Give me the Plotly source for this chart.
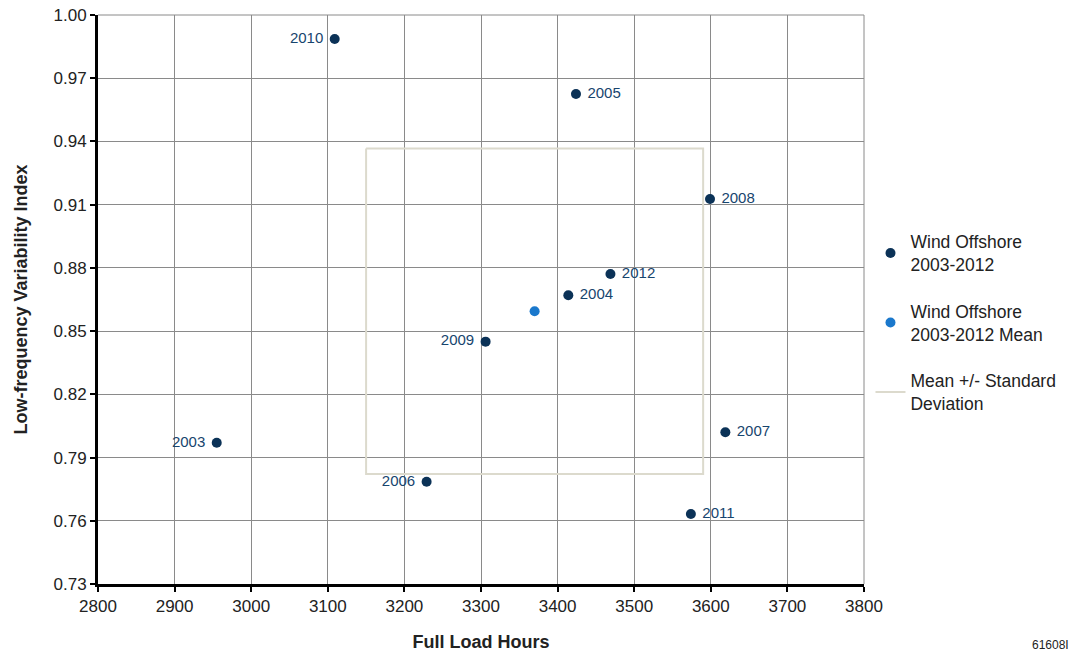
import plotly.graph_objects as go

years = ["2003", "2004", "2005", "2006", "2007", "2008", "2009", "2010", "2011", "2012"]
full_load_hours = [2955, 3414, 3424, 3229, 3619, 3599, 3306, 3109, 3574, 3469]
variability_index = [0.797, 0.867, 0.9625, 0.7785, 0.802, 0.9127, 0.845, 0.9886, 0.7632, 0.8771]
label_side = ["middle left", "middle right", "middle right", "middle left", "middle right",
              "middle right", "middle left", "middle left", "middle right", "middle right"]

mean_hours = [3370]
mean_index = [0.8594]
std_hours = [220]
std_index = [0.0772]

x_ticks = [2800, 2900, 3000, 3100, 3200, 3300, 3400, 3500, 3600, 3700, 3800]
y_ticks = [0.73, 0.76, 0.79, 0.82, 0.85, 0.88, 0.91, 0.94, 0.97, 1.00]

navy = "#0b3257"
label_color = "#17456e"
FONT = "Liberation Sans, Arial"

labels = [("\u00a0" + y) if side.endswith("right") else (y + "\u00a0")
          for y, side in zip(years, label_side)]

fig = go.Figure()

mx, my, sx, sy = mean_hours[0], mean_index[0], std_hours[0], std_index[0]
fig.add_trace(go.Scatter(
    x=[mx - sx, mx + sx, mx + sx, mx - sx, mx - sx],
    y=[my + sy, my + sy, my - sy, my - sy, my + sy],
    mode="lines", line=dict(color="#dcdacd", width=2),
    name="Mean +/- Standard<br>Deviation", legendrank=3, legendgroup="c",
))

fig.add_trace(go.Scatter(
    x=full_load_hours, y=variability_index, mode="markers+text",
    text=labels, textposition=label_side,
    textfont=dict(family=FONT, size=15, color=label_color),
    marker=dict(color=navy, size=10),
    name="Wind Offshore<br>2003-2012", legendrank=1, legendgroup="a",
))

fig.add_trace(go.Scatter(
    x=mean_hours, y=mean_index, mode="markers",
    marker=dict(color="#1a78cc", size=10),
    name="Wind Offshore<br>2003-2012 Mean", legendrank=2, legendgroup="b",
))

axis_common = dict(
    showgrid=True, gridcolor="#8a8a8a", gridwidth=1,
    showline=True, linecolor="black", linewidth=3,
    ticks="outside", ticklen=5, tickwidth=2, tickcolor="black",
    tickfont=dict(family=FONT, size=17, color="#222"),
    zeroline=False, mirror=False, automargin=False,
)

fig.update_xaxes(
    range=[2800, 3800], tickvals=x_ticks, ticktext=[str(v) for v in x_ticks],
    title=dict(text="<b>Full Load Hours</b>", font=dict(family=FONT, size=18, color="#222"), standoff=20),
    **axis_common,
)
fig.update_yaxes(
    range=[0.73, 1.00], tickvals=y_ticks, ticktext=[f"{v:.2f}" for v in y_ticks],
    title=dict(text="<b>Low-frequency Variability Index</b>", font=dict(family=FONT, size=18, color="#222"), standoff=22),
    **axis_common,
)

# top and right border grid lines
fig.add_shape(type="line", xref="paper", yref="paper", x0=0, x1=1, y0=1, y1=1,
              line=dict(color="#8a8a8a", width=1))
fig.add_shape(type="line", xref="paper", yref="paper", x0=1, x1=1, y0=0, y1=1,
              line=dict(color="#8a8a8a", width=1))

fig.add_annotation(text="61608I", xref="paper", yref="paper", x=1.27, y=-0.108,
                   xanchor="right", yanchor="middle", showarrow=False,
                   font=dict(family=FONT, size=12, color="#222"))

fig.update_layout(
    width=1069, height=660,
    margin=dict(l=98, r=205, t=15, b=76),
    plot_bgcolor="white", paper_bgcolor="white",
    font=dict(family=FONT, size=17, color="#222"),
    legend=dict(xref="container", yref="container", x=0.8143, y=0.661,
                xanchor="left", yanchor="top",
                font=dict(family=FONT, size=17.5, color="#222"),
                tracegroupgap=21),
    showlegend=True,
)

fig.write_html("out.html")
